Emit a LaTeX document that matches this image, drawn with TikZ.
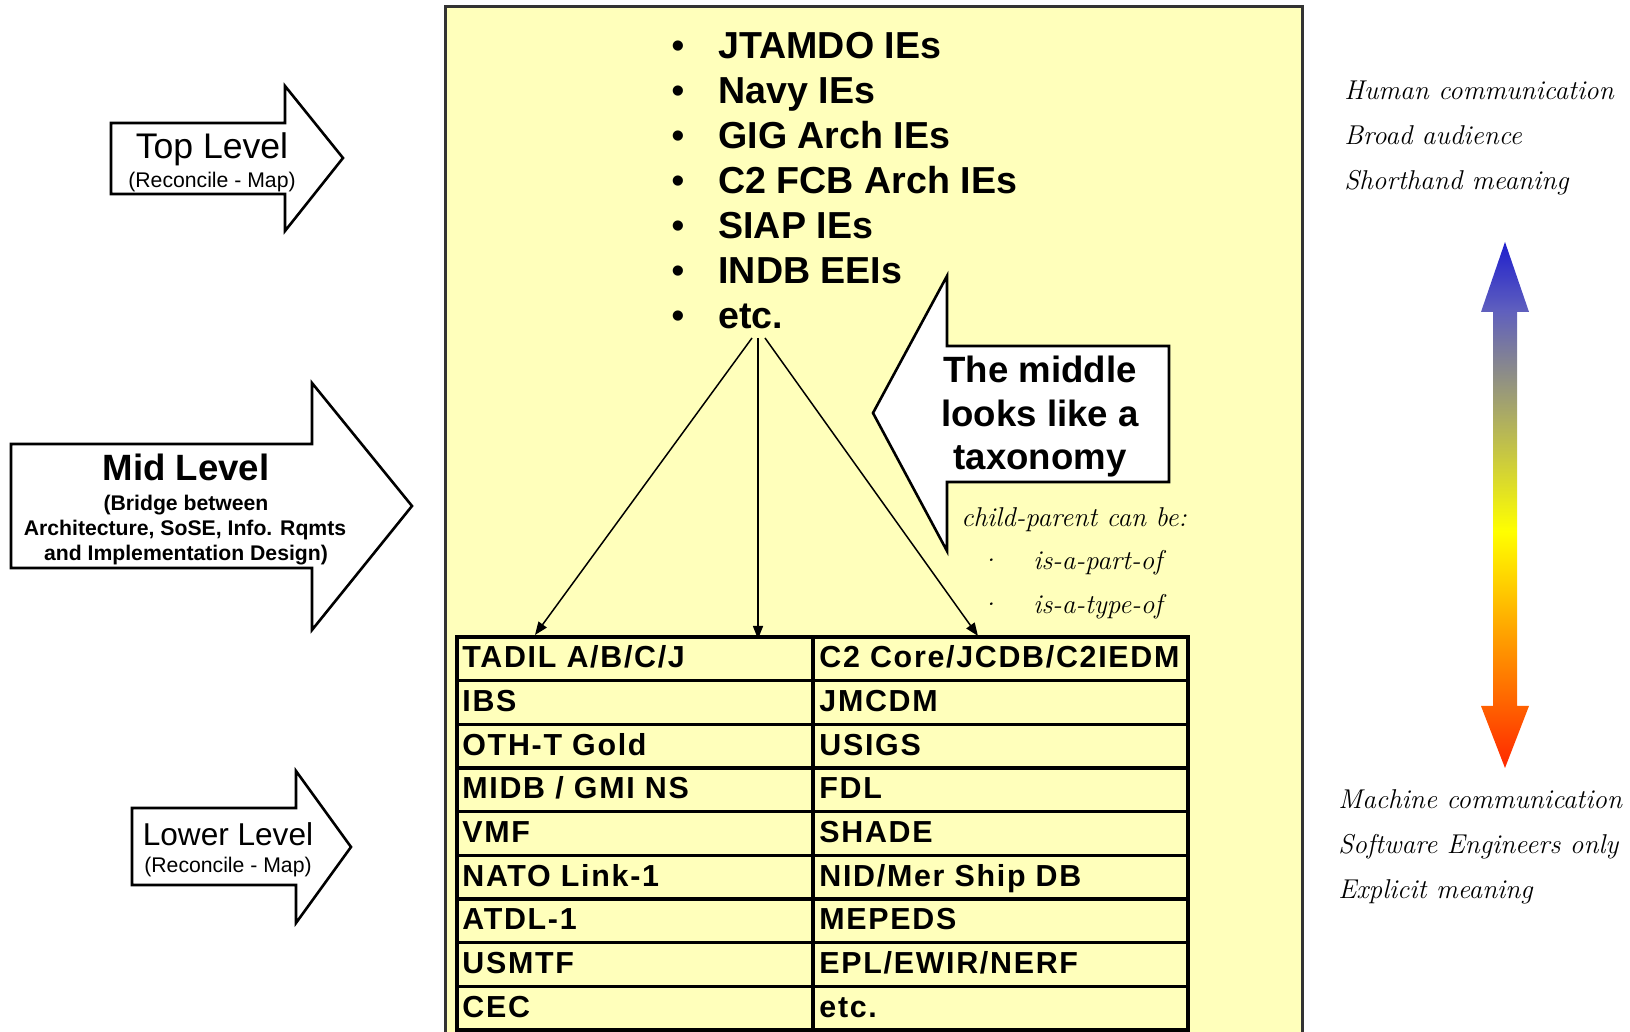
\documentclass[tikz,border=0pt]{standalone}
\usepackage{fontspec}
\setsansfont{Liberation Sans}
\newfontfamily\cellfont[LetterSpace=5.6]{Liberation Sans}
\usetikzlibrary{arrows.meta}

\definecolor{paleyellow}{RGB}{255,255,187}
\definecolor{shadeblue}{RGB}{30,30,205}
\definecolor{shademid}{RGB}{95,95,190}
\definecolor{shadeyellow}{RGB}{255,255,0}
\definecolor{shadered}{RGB}{255,40,0}

% blue on top, yellow a bit below the middle, red at the bottom
\pgfdeclareverticalshading{levelshade}{100bp}{color(0bp)=(shadered); color(25bp)=(shadered); color(47.5bp)=(shadeyellow); color(68.5bp)=(shademid); color(75bp)=(shadeblue); color(100bp)=(shadeblue)}

\tikzset{
  blockarrow/.style={draw=black, line width=1.3pt, fill=white, line join=miter},
  gridline/.style={line width=1.75pt, line cap=rect},
  fanarrow/.style={line width=0.75pt, -{Triangle[length=6.5pt,width=5pt]}},
  ielabel/.style={anchor=base west, inner sep=0pt, font={\sffamily\bfseries\fontsize{18.8}{22}\selectfont}},
  iedot/.style={anchor=base, inner sep=0pt, font={\sffamily\fontsize{18.8}{22}\selectfont}},
  cell/.style={anchor=base west, inner sep=0pt, font={\cellfont\bfseries\fontsize{15.2}{18}\selectfont}},
  subtitle/.style={anchor=base, inner sep=0pt, font={\sffamily\fontsize{10.6}{12.5}\selectfont}},
  boldsub/.style={anchor=base, inner sep=0pt, font={\sffamily\bfseries\fontsize{10.6}{12.5}\selectfont}},
  calloutline/.style={anchor=base, inner sep=0pt, font={\sffamily\bfseries\fontsize{18.3}{22}\selectfont}},
  handtext/.style={anchor=base west, inner sep=0pt, font={\rmfamily\itshape\fontsize{13.6}{16}\selectfont}}
}

\begin{document}
\begin{tikzpicture}[x=0.5pt,y=0.5pt]
  \useasboundingbox (0,0) rectangle (1630,1032);

  % Yellow panel
  \draw[line width=1.5pt, draw=black!80, fill=paleyellow] (445,-10) rectangle (1302,1025);

  % Top level information exchanges
  \foreach \name [count=\i] in {JTAMDO IEs, Navy IEs, GIG Arch IEs, C2 FCB Arch IEs, SIAP IEs, INDB EEIs, etc.} {
    \node[iedot] (dot\i) at (678,1018-45*\i) {\textbullet};
    \node[ielabel] (ie\i) at (718,1018-45*\i) {\name};
  }

  % Lower level table
  \foreach \k in {0,...,9}
    \draw[gridline] (457,395-43.66*\k) -- (1188,395-43.66*\k);
  \foreach \x in {457,813,1188}
    \draw[gridline] (\x,395) -- (\x,-10);
  \foreach \lname/\rname [count=\k] in {{TADIL A/B/C/J}/{C2 Core/JCDB/C2IEDM}, IBS/JMCDM, {OTH-T Gold}/USIGS, {MIDB / GMI NS}/FDL, VMF/SHADE, {NATO Link-1}/{NID/Mer Ship DB}, {ATDL-1}/MEPEDS, USMTF/{EPL/EWIR/NERF}, CEC/etc.} {
    \node[cell] (lc\k) at (462,407.66-43.66*\k) {\lname};
    \node[cell] (rc\k) at (819,407.66-43.66*\k) {\rname};
  }

  % Fan out from the list into the table
  \coordinate (forkl) at (752,694);
  \coordinate (forkm) at (758,694);
  \coordinate (forkr) at (765,694);
  \coordinate (lefttip) at (535,397);
  \coordinate (midtip) at (758,393);
  \coordinate (righttip) at (978,396);
  \draw[fanarrow] (forkl) -- (lefttip);
  \draw[fanarrow] (forkm) -- (midtip);
  \draw[fanarrow] (forkr) -- (righttip);

  % Top Level arrow
  \draw[blockarrow] (111,909) -- (285,909) -- (285,946) -- (343,874) -- (285,801) -- (285,838) -- (111,838) -- cycle;
  \node[anchor=base, inner sep=0pt, font={\sffamily\fontsize{17.8}{21}\selectfont}] (toplvl) at (212,873) {Top Level};
  \node[subtitle] (topsub) at (212,844) {(Reconcile - Map)};

  % Mid Level arrow
  \draw[blockarrow] (11,588) -- (312,588) -- (312,649) -- (412,526) -- (312,402) -- (312,464) -- (11,464) -- cycle;
  \node[anchor=base, inner sep=0pt, font={\sffamily\bfseries\fontsize{18.3}{22}\selectfont}] (midlvl) at (186,551) {Mid Level};
  \node[boldsub] (midsub1) at (186,521) {(Bridge between};
  \node[boldsub] (midsub2) at (185,496) {Architecture, SoSE, Info. Rqmts};
  \node[boldsub] (midsub3) at (186,471) {and Implementation Design)};

  % Lower Level arrow
  \draw[blockarrow] (132,224) -- (296,224) -- (296,261) -- (351,185) -- (296,109) -- (296,147) -- (132,147) -- cycle;
  \node[anchor=base, inner sep=0pt, font={\sffamily\fontsize{15.8}{19}\selectfont}] (lowlvl) at (228,186) {Lower Level};
  \node[subtitle] (lowsub) at (228,159) {(Reconcile - Map)};

  % Callout pointing back at the list
  \draw[blockarrow] (947,756) -- (873,619) -- (947,481) -- (947,550) -- (1169,550) -- (1169,686) -- (947,686) -- cycle;
  \node[calloutline] (call1) at (1040,649) {The middle};
  \node[calloutline] (call2) at (1040,605) {looks like a};
  \node[calloutline] (call3) at (1040,562) {taxonomy};

  % Relation kinds
  \node[handtext] (relnote) at (961,505) {child-parent can be:};
  \node[handtext, anchor=base] (reldot1) at (989,462) {\textperiodcentered};
  \node[handtext] (relpart) at (1033,462) {is-a-part-of};
  \node[handtext, anchor=base] (reldot2) at (989,418) {\textperiodcentered};
  \node[handtext] (reltype) at (1033,418) {is-a-type-of};

  % Human end / machine end
  \foreach \txt [count=\i] in {Human communication, Broad audience, Shorthand meaning}
    \node[handtext] (human\i) at (1344,977-45*\i) {\txt};
  \foreach \txt [count=\i] in {Machine communication, Software Engineers only, Explicit meaning}
    \node[handtext] (machine\i) at (1338,268-45*\i) {\txt};

  % Two-headed shaded arrow
  \shade[shading=levelshade] (1505,790) -- (1529,720) -- (1517,720) -- (1517,326) -- (1529,326) -- (1505,264) -- (1481,326) -- (1493,326) -- (1493,720) -- (1481,720) -- cycle;
\end{tikzpicture}
\end{document}
